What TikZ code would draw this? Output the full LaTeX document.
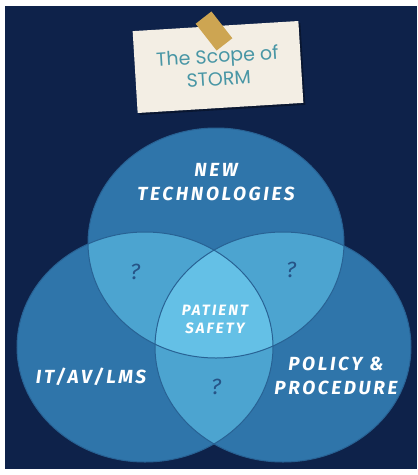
\documentclass[tikz,border=0pt]{standalone}
\usepackage{fontspec}
\setmainfont{Fira Sans}
\newfontfamily\cardfont{Poppins}
\newfontfamily\labfont[LetterSpace=14]{Fira Sans}
\definecolor{bgdark}{RGB}{14,34,74}
\definecolor{cone}{RGB}{47,117,170}
\definecolor{ctwo}{RGB}{76,164,208}
\definecolor{cthree}{RGB}{100,192,230}
\definecolor{cedge}{RGB}{40,98,148}
\definecolor{qmark}{RGB}{38,84,135}
\definecolor{cardbg}{RGB}{243,238,228}
\definecolor{cardtxt}{RGB}{72,150,165}
\definecolor{tapecol}{RGB}{205,165,82}
\tikzset{
  label/.style={text=white,font=\labfont\fontsize{19}{19}\selectfont\bfseries\itshape,inner sep=0pt},
  smalllabel/.style={text=white,font=\labfont\fontsize{15}{15}\selectfont\bfseries\itshape,inner sep=0pt},
  qlabel/.style={text=qmark,font=\fontsize{22}{22}\selectfont\itshape,inner sep=0pt},
  edge/.style={draw=cedge,line width=1pt},
}
\begin{document}
\begin{tikzpicture}[x=1pt,y=-1pt]
\useasboundingbox (0,0) rectangle (418,475);
\fill[white] (0,0) rectangle (418,475);
\fill[bgdark] (5,6) rectangle (417,469);
% base circles
\coordinate (T) at (216,243);
\coordinate (L) at (145,347);
\coordinate (R) at (283,347);
\fill[cone] (T) ellipse [x radius=128pt, y radius=115pt];
\fill[cone] (L) ellipse [x radius=128pt, y radius=115pt];
\fill[cone] (R) ellipse [x radius=128pt, y radius=115pt];
% pairwise
\begin{scope}
\clip (T) ellipse [x radius=128pt, y radius=115pt];
\fill[ctwo] (L) ellipse [x radius=128pt, y radius=115pt];
\fill[ctwo] (R) ellipse [x radius=128pt, y radius=115pt];
\end{scope}
\begin{scope}
\clip (L) ellipse [x radius=128pt, y radius=115pt];
\fill[ctwo] (R) ellipse [x radius=128pt, y radius=115pt];
\begin{scope}
\clip (R) ellipse [x radius=128pt, y radius=115pt];
\fill[cthree] (T) ellipse [x radius=128pt, y radius=115pt];
\end{scope}
\end{scope}
\draw[edge] (T) ellipse [x radius=128pt, y radius=115pt];
\draw[edge] (L) ellipse [x radius=128pt, y radius=115pt];
\draw[edge] (R) ellipse [x radius=128pt, y radius=115pt];
% labels
\node[label] (new) at (216,170) {NEW};
\node[label] (tech) at (216,194) {TECHNOLOGIES};
\node[smalllabel] (pat) at (215,310) {PATIENT};
\node[smalllabel] (saf) at (215,328) {SAFETY};
\node[label] (it) at (91,377) {IT/AV/LMS};
\node[label] (pol) at (336,364) {POLICY \&};
\node[label] (proc) at (336,388) {PROCEDURE};
\node[qlabel] (q1) at (135,272) {?};
\node[qlabel] (q2) at (291,270) {?};
\node[qlabel] (q3) at (216,387) {?};
% card
\node[fill=black,opacity=0.35,minimum width=166pt,minimum height=82pt,rotate=3.5,inner sep=0pt] (shadow) at (220,69) {};
\node[fill=cardbg,minimum width=166pt,minimum height=82pt,rotate=3.5,inner sep=0pt,text=cardtxt,font=\cardfont\fontsize{19}{19}\selectfont,align=center] (card) at (218,67) {The Scope of\\[4pt]STORM};
\node[fill=tapecol,minimum width=20pt,minimum height=34pt,rotate=38,inner sep=0pt] (tape) at (214,31) {};
\end{tikzpicture}
\end{document}
